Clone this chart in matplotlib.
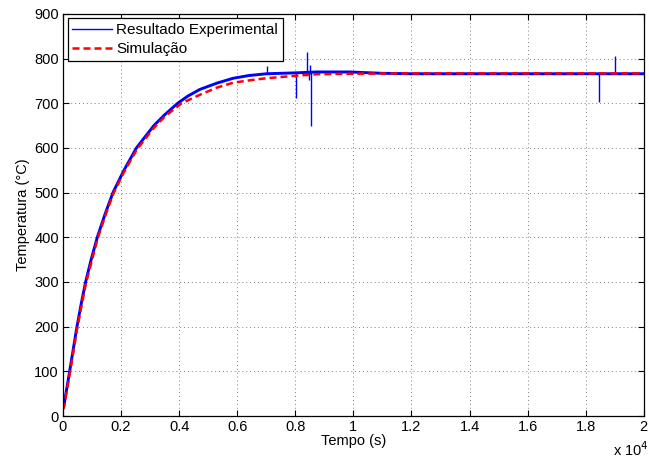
import numpy as np
import matplotlib.pyplot as plt
from matplotlib.ticker import FuncFormatter

plt.rcParams['font.family'] = ['Liberation Sans', 'DejaVu Sans']

# Experimental curve (time in s, temperature in degC)
t_exp = [0, 30, 230, 482, 625, 780, 970, 1182, 1440, 1721, 2100, 2530,
         3130, 3500, 3950, 4300, 4716, 5300, 5864, 6400, 7012, 8000, 8733,
         9880, 11000, 12000, 14000, 16000, 18000, 20000]
T_exp = [18, 22, 100, 200, 250, 300, 350, 400, 450, 500, 550, 600,
         650, 674, 700, 716, 731, 745, 756, 762, 766, 768, 770,
         770, 767, 766, 766, 766, 766, 766]

# Isolated spikes in the measurement: time, lowest and highest value
spike_t = [7010, 8010, 8390, 8480, 8520, 8550, 18450, 19025]
spike_lo = [766, 711, 766, 752, 766, 648, 702, 766]
spike_hi = [783, 768, 815, 768, 786, 770, 766, 806]

# Simulation curve
t_sim = [0, 30, 240, 492, 790, 1192, 1450, 1731, 2110, 2540, 3130, 3500,
         4085, 4716, 5300, 5864, 6500, 7012, 7928, 8733, 9880, 12000,
         16000, 20000]
T_sim = [15, 19, 97, 197, 297, 397, 447, 497, 547, 596, 645, 670,
         700, 719, 735, 746, 752, 756, 761, 765, 766, 767,
         767, 767]

fig = plt.figure(figsize=(6.49, 4.63), dpi=100)
ax = fig.add_axes([0.097, 0.1015, 0.895, 0.8685])

ax.plot(t_exp, T_exp, color='#0000ff', lw=2.1, label='Resultado Experimental')
ax.vlines(spike_t, spike_lo, spike_hi, color='#0000ff', lw=1.0)
ax.plot(t_sim, T_sim, color='#ff0000', lw=1.8, ls='--', dashes=(2.8, 1.6),
        label='Simulação')

ax.set_xlim(0, 20000)
ax.set_ylim(0, 900)
ax.set_xticks(np.arange(0, 20001, 2000))
ax.set_yticks(np.arange(0, 901, 100))
ax.xaxis.set_major_formatter(FuncFormatter(lambda v, p: '%g' % (v / 1e4)))
ax.tick_params(direction='in', top=True, right=True, labelsize=10.5,
               length=4, width=0.8, pad=3)
ax.grid(True, ls=(0, (1, 3)), color='0.5', lw=0.7)
for s in ax.spines.values():
    s.set_linewidth(0.9)

ax.set_xlabel('Tempo (s)', fontsize=10.5, labelpad=0)
ax.set_ylabel('Temperatura (°C)', fontsize=10.5, labelpad=3)
fig.text(0.944, 0.016, 'x 10$^{4}$', fontsize=10.5)

leg = ax.legend(loc='upper left', fontsize=11, fancybox=False,
                edgecolor='black', framealpha=1, borderaxespad=0.3,
                handlelength=2.6, borderpad=0.3, labelspacing=0.35,
                handletextpad=0.3)
leg.get_frame().set_linewidth(0.9)
leg.get_lines()[0].set_linewidth(1.0)

fig.savefig('out.png', dpi=100)
